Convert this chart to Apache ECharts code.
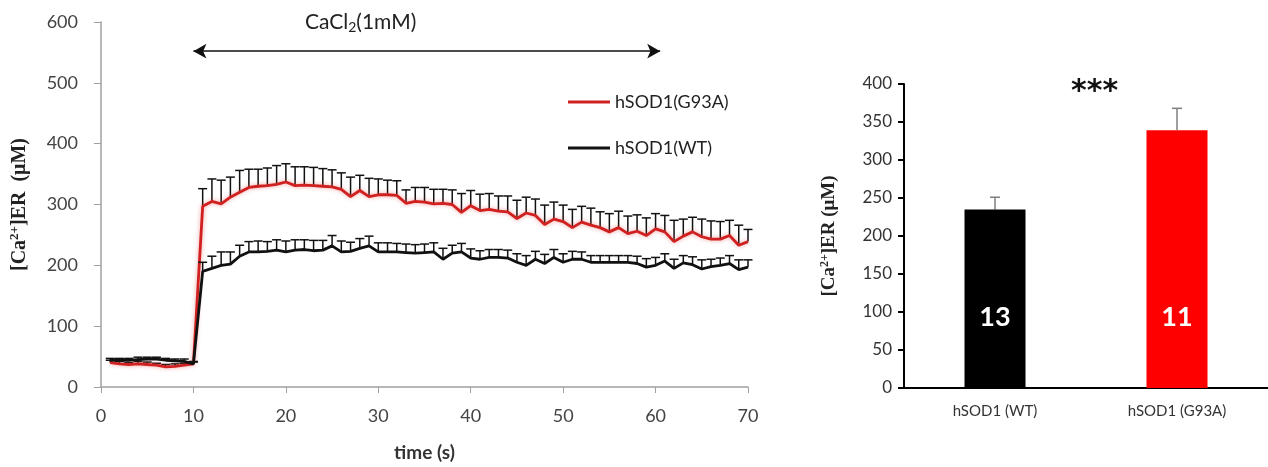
<!DOCTYPE html>
<html>
<head>
<meta charset="utf-8">
<script src="https://cdn.jsdelivr.net/npm/echarts@6/dist/echarts.min.js"></script>
<style>
  html, body { margin: 0; padding: 0; background: #fff; }
  #chart { width: 1268px; height: 467px; }
</style>
</head>
<body>
<div id="chart"></div>
<script>
  // time course (s)
  const times = [1, 2, 3, 4, 5, 6, 7, 8, 9, 10,
    11, 12, 13, 14, 15, 16, 17, 18, 19, 20,
    21, 22, 23, 24, 25, 26, 27, 28, 29, 30,
    31, 32, 33, 34, 35, 36, 37, 38, 39, 40,
    41, 42, 43, 44, 45, 46, 47, 48, 49, 50,
    51, 52, 53, 54, 55, 56, 57, 58, 59, 60,
    61, 62, 63, 64, 65, 66, 67, 68, 69, 70]

  // hSOD1(G93A) mean / error
  const g93a = [40, 38, 37, 38, 37, 36, 33, 34, 36, 38,
    297, 305, 301, 312, 320, 328, 330, 331, 333, 337,
    331, 332, 331, 330, 329, 325, 313, 323, 313, 316,
    316, 315, 302, 305, 304, 301, 302, 300, 287, 298,
    290, 292, 289, 288, 277, 286, 282, 267, 276, 272,
    262, 271, 266, 262, 255, 262, 252, 256, 249, 260,
    255, 239, 248, 255, 247, 243, 243, 249, 233, 239]
  const g93aErr = [4, 4, 3, 4, 4, 3, 4, 4, 3, 4,
    29, 37, 39, 33, 36, 30, 28, 29, 31, 30,
    31, 30, 30, 29, 28, 27, 32, 25, 30, 26,
    24, 24, 22, 23, 24, 24, 23, 24, 31, 25,
    27, 26, 25, 26, 30, 26, 27, 32, 28, 27,
    30, 26, 28, 26, 30, 27, 29, 27, 29, 25,
    27, 35, 28, 24, 29, 30, 29, 25, 33, 20]

  // hSOD1(WT) mean / error
  const wt = [44, 44, 44, 45, 46, 46, 44, 43, 42, 38,
    190, 195, 200, 202, 215, 222, 222, 223, 225, 222,
    225, 226, 224, 225, 232, 222, 223, 228, 232, 222,
    222, 222, 221, 220, 221, 222, 210, 220, 222, 212,
    210, 213, 213, 212, 205, 200, 210, 203, 213, 205,
    210, 210, 205, 205, 205, 205, 205, 203, 197, 200,
    207, 195, 204, 201, 194, 198, 200, 203, 193, 197]
  const wtErr = [3, 3, 3, 4, 3, 3, 3, 3, 4, 3,
    15, 20, 22, 20, 18, 17, 18, 16, 17, 18,
    17, 16, 17, 16, 17, 18, 15, 16, 16, 15,
    15, 14, 14, 14, 14, 15, 18, 13, 14, 15,
    14, 13, 13, 13, 14, 16, 13, 15, 13, 14,
    13, 12, 11, 11, 11, 11, 11, 12, 14, 13,
    12, 15, 12, 13, 15, 12, 12, 13, 16, 12]

  // CaCl2 application window (s) and arrow level
  const caclWindow = [10, 60.5]
  const caclLevel = 552

  // summary bars
  const barCats = ['hSOD1 (WT)', 'hSOD1 (G93A)']
  const barVals = [235, 339]
  const barErr = [16, 29]
  const barN = ['13', '11']
  const barColors = ['#000000', '#ff0000']

  const labelFont = 'Lato, "Open Sans", sans-serif'
  const serifFont = '"Liberation Serif", "DejaVu Serif", serif'

  function errorBars(color, capHalf) {
    return function (params, api) {
      let p0 = api.coord([api.value(0), api.value(1)])
      let p1 = api.coord([api.value(0), api.value(1) + api.value(2)])
      let style = { stroke: color, lineWidth: 1.5 }
      return {
        type: 'group',
        children: [
          { type: 'line', shape: { x1: p0[0], y1: p0[1], x2: p1[0], y2: p1[1] }, style: style },
          { type: 'line', shape: { x1: p1[0] - capHalf, y1: p1[1], x2: p1[0] + capHalf, y2: p1[1] }, style: style }
        ]
      }
    }
  }

  let chart = echarts.init(document.getElementById('chart'))
  let option = {
    animation: false,
    grid: [
      { left: 96, right: 520, top: 22, bottom: 70 },
      { left: 904, right: -8, top: 84, bottom: 79 }
    ],
    legend: {
      orient: 'vertical',
      left: 563,
      top: 88,
      itemGap: 28,
      icon: 'rect',
      itemWidth: 42,
      itemHeight: 3,
      textStyle: { fontFamily: labelFont, fontSize: 18, color: '#222' },
      data: ['hSOD1(G93A)', 'hSOD1(WT)']
    },
    xAxis: [{
      gridIndex: 0,
      type: 'value',
      min: 0,
      max: 70,
      interval: 10,
      name: 'time (s)',
      nameLocation: 'middle',
      nameGap: 56,
      nameTextStyle: { fontFamily: labelFont, fontSize: 19, fontWeight: 'bold', color: '#333' },
      axisLine: { lineStyle: { color: '#a0a0a0', width: 1.5 } },
      axisTick: { length: 6, lineStyle: { color: '#a0a0a0' } },
      axisLabel: { fontFamily: labelFont, fontSize: 18, color: '#444', margin: 20 },
      splitLine: { show: false }
    }, {
      gridIndex: 1,
      type: 'category',
      data: barCats,
      axisLine: { lineStyle: { color: '#000', width: 2 } },
      axisTick: { length: 6, lineStyle: { color: '#000', width: 2 } },
      axisLabel: { fontFamily: labelFont, fontSize: 15, color: '#333', margin: 16 }
    }],
    yAxis: [{
      gridIndex: 0,
      type: 'value',
      min: 0,
      max: 600,
      interval: 100,
      name: '[Ca{sup|2+}]ER  (\u03bcM)',
      nameLocation: 'middle',
      nameGap: 70,
      nameTextStyle: {
        fontFamily: serifFont, fontSize: 20, fontWeight: 'bold', color: '#222',
        rich: { sup: { fontFamily: serifFont, fontSize: 13, fontWeight: 'bold', color: '#222', padding: [0, 0, 10, 0] } }
      },
      axisLine: { show: true, lineStyle: { color: '#a0a0a0', width: 1.5 } },
      axisTick: { show: true, length: 7, lineStyle: { color: '#a0a0a0' } },
      axisLabel: { fontFamily: labelFont, fontSize: 18, color: '#444', margin: 23 },
      splitLine: { show: false }
    }, {
      gridIndex: 1,
      type: 'value',
      min: 0,
      max: 400,
      interval: 50,
      name: '[Ca{sup|2+}]ER (\u03bcM)',
      nameLocation: 'middle',
      nameGap: 64,
      nameTextStyle: {
        fontFamily: serifFont, fontSize: 19, fontWeight: 'bold', color: '#222',
        rich: { sup: { fontFamily: serifFont, fontSize: 12, fontWeight: 'bold', color: '#222', padding: [0, 0, 9, 0] } }
      },
      axisLine: { show: true, lineStyle: { color: '#000', width: 2 } },
      axisTick: { show: true, length: 6, lineStyle: { color: '#000', width: 2 } },
      axisLabel: { fontFamily: labelFont, fontSize: 17, color: '#333', margin: 12 },
      splitLine: { show: false }
    }],
    graphic: [{
      type: 'text',
      left: 305,
      top: 12,
      style: {
        text: 'CaCl{sub|2}(1mM)',
        fontFamily: labelFont,
        fontSize: 21,
        fill: '#222',
        rich: { sub: { fontFamily: labelFont, fontSize: 14, fill: '#222', padding: [9, 0, 0, 0] } }
      }
    }, {
      type: 'text',
      left: 1071,
      top: 77,
      style: { text: '***', fontFamily: '"DejaVu Sans", sans-serif', fontSize: 30, fontWeight: 'bold', fill: '#111' }
    }],
    series: [{
      type: 'custom',
      xAxisIndex: 0,
      yAxisIndex: 0,
      renderItem: errorBars('#111', 4.5),
      data: times.map((t, i) => [t, g93a[i], g93aErr[i]]),
      z: 2
    }, {
      name: 'hSOD1(G93A)',
      type: 'line',
      xAxisIndex: 0,
      yAxisIndex: 0,
      data: times.map((t, i) => [t, g93a[i]]),
      symbol: 'none',
      color: '#d0201f',
      lineStyle: { width: 2.8, color: '#d0201f', shadowBlur: 4, shadowColor: 'rgba(230,60,60,0.5)' },
      z: 3,
      markLine: {
        silent: true,
        symbol: ['arrow', 'arrow'],
        symbolSize: [11, 13],
        label: { show: false },
        lineStyle: { color: '#111', width: 1.5, type: 'solid' },
        data: [[{ coord: [caclWindow[0], caclLevel] }, { coord: [caclWindow[1], caclLevel] }]]
      }
    }, {
      type: 'custom',
      xAxisIndex: 0,
      yAxisIndex: 0,
      renderItem: errorBars('#111', 4.5),
      data: times.map((t, i) => [t, wt[i], wtErr[i]]),
      z: 4
    }, {
      name: 'hSOD1(WT)',
      type: 'line',
      xAxisIndex: 0,
      yAxisIndex: 0,
      data: times.map((t, i) => [t, wt[i]]),
      symbol: 'none',
      color: '#111',
      lineStyle: { width: 2.8, color: '#111' },
      z: 5
    }, {
      type: 'custom',
      xAxisIndex: 1,
      yAxisIndex: 1,
      renderItem: errorBars('#7f7f7f', 5),
      data: barCats.map((c, i) => [i, barVals[i], barErr[i]]),
      z: 1
    }, {
      type: 'bar',
      xAxisIndex: 1,
      yAxisIndex: 1,
      barWidth: 61,
      data: barVals.map((v, i) => ({ value: v, itemStyle: { color: barColors[i] } })),
      label: {
        show: true,
        position: 'insideBottom',
        distance: 57,
        formatter: (p) => barN[p.dataIndex],
        fontFamily: labelFont,
        fontSize: 27,
        fontWeight: 'bold',
        color: '#fff'
      },
      z: 2
    }]
  }
  chart.setOption(option)
</script>
</body>
</html>
